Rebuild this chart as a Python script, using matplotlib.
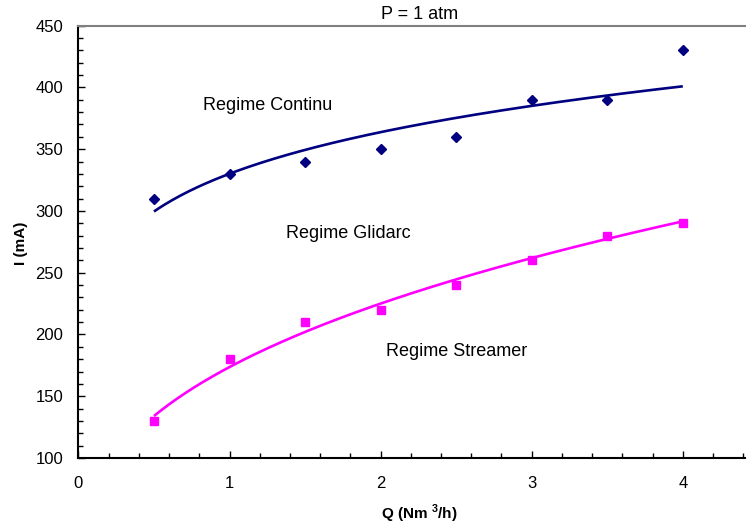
import numpy as np
import matplotlib.pyplot as plt
from matplotlib.ticker import MultipleLocator

plt.rcParams['font.family'] = ['Liberation Sans', 'DejaVu Sans']
plt.rcParams['mathtext.fontset'] = 'custom'
plt.rcParams['mathtext.bf'] = 'Liberation Sans:bold'
plt.rcParams['mathtext.rm'] = 'Liberation Sans'

# debit (Nm3/h) et courant (mA)
Q = [0.5, 1.0, 1.5, 2.0, 2.5, 3.0, 3.5, 4.0]
I_continu = [310, 330, 340, 350, 360, 390, 390, 430]
I_streamer = [130, 180, 210, 220, 240, 260, 280, 290]


def power_trend(x, y):
    # courbe de tendance puissance (comme Excel): y = a * x^b
    b, lna = np.polyfit(np.log(x), np.log(y), 1)
    xs = np.linspace(min(x), max(x), 200)
    return xs, np.exp(lna) * xs ** b


fig = plt.figure(figsize=(7.47, 5.24), dpi=100)
ax = fig.add_axes([0.105, 0.126, 0.892, 0.825])

xs, ys = power_trend(Q, I_continu)
ax.plot(xs, ys, color="#000080", lw=1.9, solid_capstyle="butt")
ax.plot(Q, I_continu, "D", color="#000080", ms=5, ls="none")

xs, ys = power_trend(Q, I_streamer)
ax.plot(xs, ys, color="#FF00FF", lw=1.9, solid_capstyle="butt")
ax.plot(Q, I_streamer, "s", color="#FF00FF", ms=6, ls="none")

ax.set_xlim(0, 4.41)
ax.set_ylim(100, 450)
ax.xaxis.set_major_locator(MultipleLocator(1))
ax.xaxis.set_minor_locator(MultipleLocator(0.2))
ax.yaxis.set_major_locator(MultipleLocator(50))
ax.yaxis.set_minor_locator(MultipleLocator(10))
ax.tick_params(which="both", direction="in", color="black", width=1)
ax.tick_params(which="major", length=5, labelsize=12)
ax.tick_params(axis="x", which="major", pad=13)
ax.tick_params(axis="y", which="major", pad=11)
ax.tick_params(which="minor", length=3.5)

ax.spines["right"].set_visible(False)
ax.spines["top"].set_color("#808080")
ax.spines["top"].set_linewidth(1.5)
ax.spines["left"].set_linewidth(1.5)
ax.spines["bottom"].set_linewidth(1.5)

ax.set_xlabel(r"Q (Nm $^{\mathbf{3}}$/h)", fontsize=11, fontweight="bold", va="center")
ax.set_ylabel("I (mA)", fontsize=11, fontweight="bold", va="center")
ax.xaxis.set_label_coords(0.511, -0.129)
ax.yaxis.set_label_coords(-0.086, 0.496)
fig.text(0.561, 0.972, "P = 1 atm", fontsize=13, ha="center", va="center")

ax.text(0.823, 385, "Regime Continu", fontsize=13, va="center")
ax.text(1.373, 282, "Regime Glidarc", fontsize=13, va="center")
ax.text(2.034, 186, "Regime Streamer", fontsize=13, va="center")

plt.savefig("out.png", dpi=100)
